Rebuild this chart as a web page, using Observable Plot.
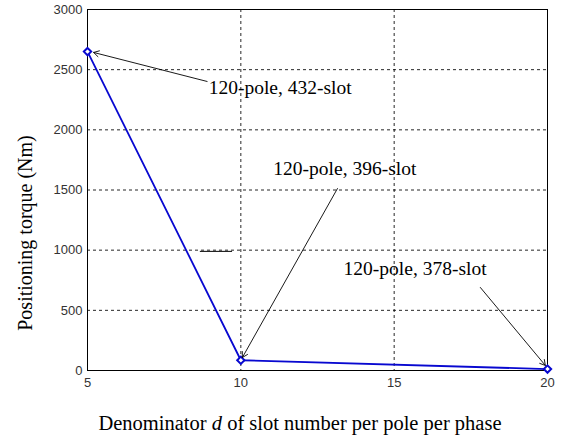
<!DOCTYPE html>
<html>
<head>
<meta charset="utf-8">
<script src="https://cdn.jsdelivr.net/npm/d3@7"></script>
<script src="https://cdn.jsdelivr.net/npm/@observablehq/plot@0.6"></script>
<style>
  html, body { margin: 0; padding: 0; background: #fff; }
  #chart { width: 564px; height: 435px; }
</style>
</head>
<body>
<div id="chart"></div>
<script>
// Data
const denominators = [5, 10, 20];
const torques = [2650, 85, 12];

const xTicks = [5, 10, 15, 20];
const yTicks = [0, 500, 1000, 1500, 2000, 2500, 3000];

// Annotations: label text, label anchor, arrow tail and head (data units)
const annLabels = ["120-pole, 432-slot", "120-pole, 396-slot", "120-pole, 378-slot"];
const annLabelX = [8.95, 11.06, 13.35];
const annLabelY = [2348, 1675, 848];
const annTailX = [8.9, 13.15, 17.81];
const annTailY = [2402, 1512, 690];
const annHeadX = [5.2, 10.05, 19.93];
const annHeadY = [2643, 108, 42];

// Stray short horizontal stroke visible in the reference
const strayX1 = [8.68];
const strayX2 = [9.73];
const strayY = [990];

const xLabelParts = ["Denominator ", "d", " of slot number per pole per phase"];
const yLabel = "Positioning torque (Nm)";

const series = denominators.map((d, i) => ({x: d, y: torques[i]}));
const annotations = annLabels.map((t, i) => ({
  label: t, lx: annLabelX[i], ly: annLabelY[i],
  tx: annTailX[i], ty: annTailY[i], hx: annHeadX[i], hy: annHeadY[i]
}));
const stray = strayY.map((y, i) => ({y, x1: strayX1[i], x2: strayX2[i]}));

const blue = "#0808d0";
const serif = "'Liberation Serif', 'Times New Roman', serif";

const chart = Plot.plot({
  width: 564,
  height: 435,
  marginLeft: 87,
  marginRight: 17,
  marginTop: 9,
  marginBottom: 65,
  style: {fontFamily: "'Liberation Sans', Arial, sans-serif", fontSize: "13px", background: "white", color: "#000"},
  x: {domain: [5, 20], label: null},
  y: {domain: [0, 3000], label: null},
  marks: [
    Plot.gridX(xTicks, {stroke: "#000", strokeOpacity: 0.85, strokeDasharray: "3,3"}),
    Plot.gridY(yTicks, {stroke: "#000", strokeOpacity: 0.85, strokeDasharray: "3,3"}),
    Plot.frame({stroke: "#000", strokeWidth: 1}),
    Plot.axisX(xTicks, {tickSize: 0, tickPadding: 7, fill: "#333", fontSize: 13, tickFormat: d => String(d)}),
    Plot.axisY(yTicks, {tickSize: 0, tickPadding: 5, fill: "#333", fontSize: 13, tickFormat: d => String(d)}),
    Plot.ruleY(stray, {y: "y", x1: "x1", x2: "x2", stroke: "#000", strokeWidth: 1}),
    Plot.line(series, {x: "x", y: "y", stroke: blue, strokeWidth: 1.8}),
    Plot.dot(series, {x: "x", y: "y", symbol: "diamond2", r: 3.3, stroke: blue, strokeWidth: 2, fill: "white"}),
    Plot.arrow(annotations, {x1: "tx", y1: "ty", x2: "hx", y2: "hy", stroke: "#000", strokeWidth: 0.9, headLength: 10, insetStart: 0, insetEnd: 0}),
    Plot.text(annotations, {x: "lx", y: "ly", text: "label", textAnchor: "start", fontFamily: serif, fontSize: 19.5, fill: "#000"})
  ]
});

const svg = d3.select(chart);
// x-axis title with italic d
const xt = svg.append("text")
  .attr("x", 300).attr("y", 430)
  .attr("text-anchor", "middle")
  .attr("font-family", serif)
  .attr("font-size", 20.5)
  .attr("fill", "#000");
xLabelParts.forEach((p, i) => {
  const ts = xt.append("tspan").text(p);
  if (i === 1) ts.attr("font-style", "italic");
});
// y-axis title
svg.append("text")
  .attr("transform", "translate(32,233) rotate(-90)")
  .attr("text-anchor", "middle")
  .attr("font-family", serif)
  .attr("font-size", 20)
  .attr("fill", "#000")
  .text(yLabel);

document.getElementById("chart").appendChild(chart);
</script>
</body>
</html>
